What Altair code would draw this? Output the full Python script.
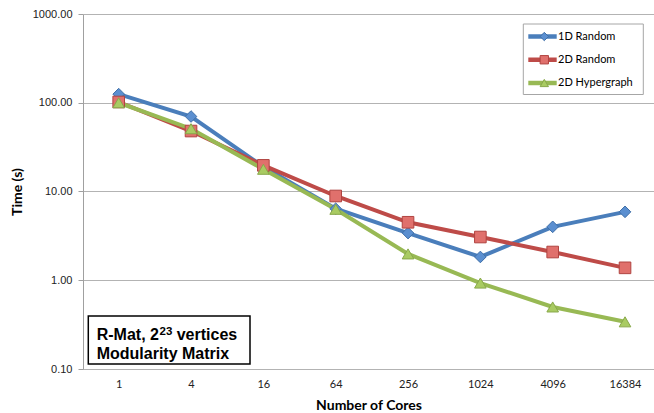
import altair as alt
import pandas as pd

# Strong-scaling timings on a log axis, one series per partitioning scheme
cores = ["1", "4", "16", "64", "256", "1024", "4096", "16384"]
series_names = ["1D Random", "2D Random", "2D Hypergraph"]
time_1d_random = [125, 70, 19, 6.4, 3.4, 1.83, 4.0, 5.9]
time_2d_random = [102, 48, 19.7, 8.9, 4.5, 3.07, 2.08, 1.38]
time_2d_hyper = [100, 51, 17.8, 6.3, 1.98, 0.93, 0.5, 0.34]

line_colors = ["#4A7EBB", "#BE4B48", "#98B954"]
marker_fill = ["#5B8FD0", "#E0706C", "#A9CB62"]
marker_edge = ["#3F6FA8", "#B04441", "#88A84A"]
marker_shapes = ["diamond", "square", "triangle-up"]

rows = []
for name, vals in zip(series_names, [time_1d_random, time_2d_random, time_2d_hyper]):
    for c, v in zip(cores, vals):
        rows.append({"cores": c, "time": v, "series": name})
df = pd.DataFrame(rows)
legend_df = pd.DataFrame({"series": series_names})

W, H = 571, 355

color_enc = alt.Color(
    "series:N", sort=series_names,
    scale=alt.Scale(domain=series_names, range=line_colors), legend=None,
)
shape_enc = alt.Shape(
    "series:N", sort=series_names,
    scale=alt.Scale(domain=series_names, range=marker_shapes), legend=None,
)
fill_enc = alt.Fill(
    "series:N", sort=series_names,
    scale=alt.Scale(domain=series_names, range=marker_fill), legend=None,
)
stroke_enc = alt.Stroke(
    "series:N", sort=series_names,
    scale=alt.Scale(domain=series_names, range=marker_edge), legend=None,
)

x_enc = alt.X(
    "cores:N",
    sort=cores,
    scale=alt.Scale(type="point", padding=0.447, align=0.552),
    axis=alt.Axis(
        title="Number of Cores",
        labelAngle=0,
        ticks=False,
        tickSize=0,
        grid=False,
        labelFont="Lato",
        labelFontSize=11,
        labelColor="#222222",
        labelPadding=9,
        labelBaseline="top",
        domainColor="#b3b3b3",
        domainWidth=1,
        titleFont="Lato",
        titleFontSize=14,
        titleFontWeight="bold",
        titleColor="#000000",
        titleBaseline="middle",
        titleY=36,
    ),
)

y_enc = alt.Y(
    "time:Q",
    scale=alt.Scale(type="log", domain=[0.1, 1000]),
    axis=alt.Axis(
        title="Time (s)",
        values=[0.1, 1, 10, 100, 1000],
        format=".2f",
        grid=True,
        gridColor="#b3b3b3",
        gridWidth=1,
        domainColor="#a0a0a0",
        tickColor="#a0a0a0",
        tickSize=5,
        labelFont="Liberation Sans",
        labelFontSize=11,
        labelColor="#222222",
        labelPadding=6,
        titleFont="Lato",
        titleFontSize=14,
        titleFontWeight="bold",
        titleColor="#000000",
        titleBaseline="middle",
        titleX=-66,
        titleY=H / 2,
    ),
)

lines = alt.Chart(df).mark_line(strokeWidth=4).encode(
    x=x_enc, y=y_enc, color=color_enc
)
points = alt.Chart(df).mark_point(filled=True, size=135, strokeWidth=1, opacity=1).encode(
    x=alt.X("cores:N", sort=cores),
    y=alt.Y("time:Q"),
    shape=shape_enc,
    fill=fill_enc,
    stroke=stroke_enc,
)
data_layer = alt.layer(lines, points)

# Annotation box in the lower-left corner of the plot
one = pd.DataFrame({"k": [0]})
note_box = alt.Chart(one).mark_rect(
    fill="white", stroke="#000000", strokeWidth=1.5
).encode(x=alt.value(5.3), x2=alt.value(167), y=alt.value(302), y2=alt.value(350))


def note_piece(text, x, y, size):
    return alt.Chart(one).mark_text(
        align="left", baseline="alphabetic", font="Liberation Sans",
        fontSize=size, fontWeight="bold", color="#000000",
    ).encode(x=alt.value(x), y=alt.value(y), text=alt.value(text))


note = [
    note_box,
    note_piece("R-Mat, 2", 13.7, 326, 16),
    note_piece("23", 76.5, 320.5, 11.5),
    note_piece("vertices", 93.7, 326, 16),
    note_piece("Modularity Matrix", 13.7, 344.5, 16),
]

# Legend panel in the upper-right corner, one row per series
leg_y = alt.Y(
    "series:N", sort=series_names,
    scale=alt.Scale(type="point", domain=series_names, range=[22.5, 69], padding=0),
    axis=None,
)
leg_box = alt.Chart(one).mark_rect(
    fill="white", stroke="#a6a6a6", strokeWidth=1
).encode(x=alt.value(440.3), x2=alt.value(560.3), y=alt.value(10), y2=alt.value(80.5))
leg_lines = alt.Chart(legend_df).mark_rule(strokeWidth=4.5).encode(
    x=alt.value(445.3), x2=alt.value(473.7), y=leg_y, color=color_enc
)
leg_marks = alt.Chart(legend_df).mark_point(
    filled=True, size=70, strokeWidth=1, opacity=1
).encode(
    x=alt.value(461.3), y=leg_y, shape=shape_enc, fill=fill_enc, stroke=stroke_enc
)
leg_text = alt.Chart(legend_df).mark_text(
    align="left", baseline="middle", font="Lato", fontSize=11, color="#000000"
).encode(x=alt.value(475), y=leg_y, text="series:N")
legend_layer = alt.layer(leg_box, leg_lines, leg_marks, leg_text)

chart = (
    alt.layer(data_layer, *note, legend_layer)
    .resolve_scale(y="independent")
    .properties(
        width=W,
        height=H,
        autosize=alt.AutoSizeParams(type="none"),
        padding={"left": 83, "top": 14, "right": 0, "bottom": 44},
        background="white",
    )
    .configure_view(stroke=None)
)

chart.save("out.html", embed_options={"renderer": "svg", "actions": False})
